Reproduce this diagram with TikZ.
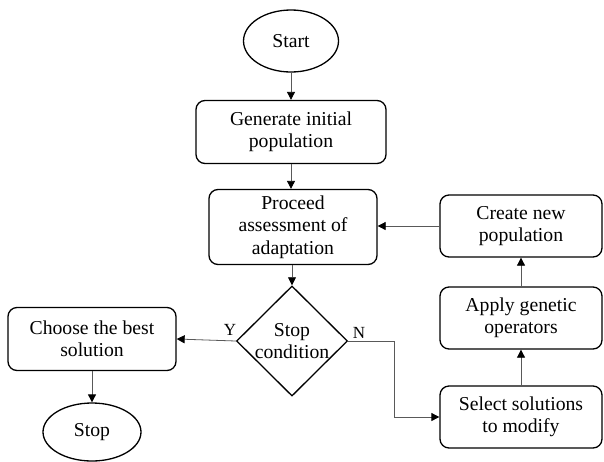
\documentclass[tikz,border=0pt]{standalone}
\usepackage{fontspec}
\setmainfont{Liberation Serif}
\usepackage{tikz}
\usetikzlibrary{arrows.meta, positioning, shapes.geometric}

\begin{document}
\begin{tikzpicture}[x=1pt, y=-1pt,
    every node/.style={font=\fontsize{19.7}{22.5}\selectfont},
    box/.style={draw, line width=1.3pt, rounded corners=9pt, align=center, inner sep=0pt},
    term/.style={draw, ellipse, line width=1.3pt, inner sep=0pt},
    cond/.style={draw, diamond, aspect=1, line width=1.3pt, inner sep=0pt, align=center},
    flow/.style={-{Triangle[length=8pt, width=8pt, black]}, gray!70!black, line width=0.8pt},
    yn/.style={font=\fontsize{17}{20}\selectfont}]
        \useasboundingbox (0,0) rectangle (604,461);
        % Colonne principale
        \node[term, minimum width=95pt, minimum height=62pt] (start) at (291,41) {Start};
        \node[box, minimum width=190pt, minimum height=63pt] (gen) at (291,132)
          {Generate initial\\population};
        \node[box, minimum width=168pt, minimum height=75pt] (eval) at (293,227)
          {Proceed\\assessment of\\adaptation};
        \node[cond, minimum width=111pt, minimum height=110pt] (stopc) at (292,341)
          {Stop\\condition};
        % Sortie
        \node[box, minimum width=168pt, minimum height=63pt] (best) at (92,339)
          {Choose the best\\solution};
        \node[term, minimum width=98pt, minimum height=58pt] (stop) at (92,432) {Stop};
        % Boucle
        \node[box, minimum width=162pt, minimum height=62pt] (sel) at (521,417)
          {Select solutions\\to modify};
        \node[box, minimum width=162pt, minimum height=62pt] (ops) at (521,318)
          {Apply genetic\\operators};
        \node[box, minimum width=162pt, minimum height=62pt] (newpop) at (521,226)
          {Create new\\population};
        % Connecteurs
        \draw[flow] (start) -- (gen);
        \draw[flow] (gen) -- (gen |- eval.north);
        \draw[flow] (eval.south -| stopc) -- (stopc.north);
        \draw[flow] (stopc.west) -- (best.east);
        \draw[flow] (best) -- (stop);
        \draw[flow] (stopc.east) -- ++(46,0) |- (sel.west);
        \draw[flow] (sel) -- (ops);
        \draw[flow] (ops) -- (newpop);
        \draw[flow] (newpop.west) -- (eval.east |- newpop.west);
        \node[yn] (yes) at (230,330) {Y};
        \node[yn] (no) at (359,333) {N};
\end{tikzpicture}
\end{document}
